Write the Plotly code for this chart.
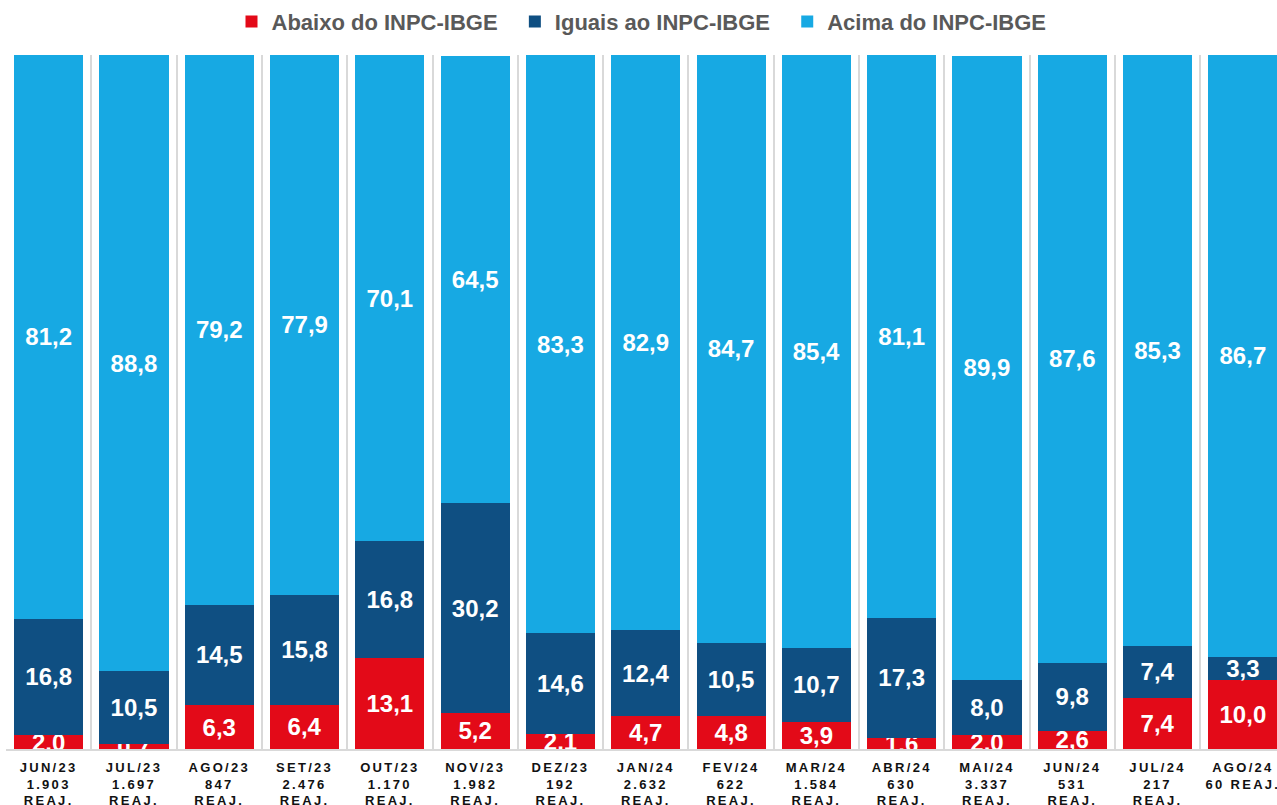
import plotly.graph_objects as go

months = ["JUN/23", "JUL/23", "AGO/23", "SET/23", "OUT/23", "NOV/23", "DEZ/23",
          "JAN/24", "FEV/24", "MAR/24", "ABR/24", "MAI/24", "JUN/24", "JUL/24", "AGO/24"]
reajustes = ["1.903", "1.697", "847", "2.476", "1.170", "1.982", "192",
             "2.632", "622", "1.584", "630", "3.337", "531", "217", "60"]
abaixo = [2.0, 0.7, 6.3, 6.4, 13.1, 5.2, 2.1, 4.7, 4.8, 3.9, 1.6, 2.0, 2.6, 7.4, 10.0]
iguais = [16.8, 10.5, 14.5, 15.8, 16.8, 30.2, 14.6, 12.4, 10.5, 10.7, 17.3, 8.0, 9.8, 7.4, 3.3]
acima = [81.2, 88.8, 79.2, 77.9, 70.1, 64.5, 83.3, 82.9, 84.7, 85.4, 81.1, 89.9, 87.6, 85.3, 86.7]

categories = []
for i, (m, r) in enumerate(zip(months, reajustes)):
    if i == len(months) - 1:
        categories.append(f"{m}<br>{r} REAJ.")
    else:
        categories.append(f"{m}<br>{r}<br>REAJ.")

NB = "\u00a0"
series = [
    ("Abaixo do INPC-IBGE" + NB * 2, abaixo, "#E30A18"),
    ("Iguais ao INPC-IBGE" + NB * 2, iguais, "#0F4F82"),
    ("Acima do INPC-IBGE", acima, "#17A9E3"),
]

FONT = "Liberation Sans, Arial, sans-serif"

fig = go.Figure()
for name, vals, color in series:
    fig.add_trace(go.Bar(
        name=name, x=categories, y=vals,
        marker=dict(color=color, line=dict(width=0)),
        texttemplate="%{y:.1f}",
        textposition="inside", insidetextanchor="middle", textangle=0,
        textfont=dict(family=FONT, size=24, color="white", weight="bold"),
        cliponaxis=True,
    ))

fig.update_layout(
    barmode="stack",
    bargap=0.19,
    width=1277, height=805,
    margin=dict(l=6, r=0, t=55, b=56),
    paper_bgcolor="white", plot_bgcolor="white",
    separators=",.",
    uniformtext=dict(minsize=24, mode="show"),
    showlegend=True,
    legend=dict(
        orientation="h", x=0.5, xanchor="center", y=1.048, yanchor="middle",
        font=dict(family=FONT, size=22, color="#595959", weight="bold"),
        itemwidth=30, traceorder="normal",
    ),
    xaxis=dict(
        type="category",
        range=[-0.5, 14.40],
        tickson="boundaries", ticks="", showgrid=True,
        gridcolor="#d9d9d9", gridwidth=2,
        showline=True, linecolor="#d9d9d9", linewidth=2,
        tickfont=dict(family=FONT, size=13, color="#111111", weight="bold"),
        tickangle=0, automargin=False, ticklabelstandoff=5,
    ),
    yaxis=dict(range=[0, 100], visible=False, showgrid=False, fixedrange=True),
)

post = """
var s=document.createElement('style');
s.innerHTML='html,body{margin:0;padding:0;overflow:hidden;} .xtick text{letter-spacing:2.3px;}';
document.head.appendChild(s);
"""
fig.write_html("out.html", post_script=post, config={"displayModeBar": False})
